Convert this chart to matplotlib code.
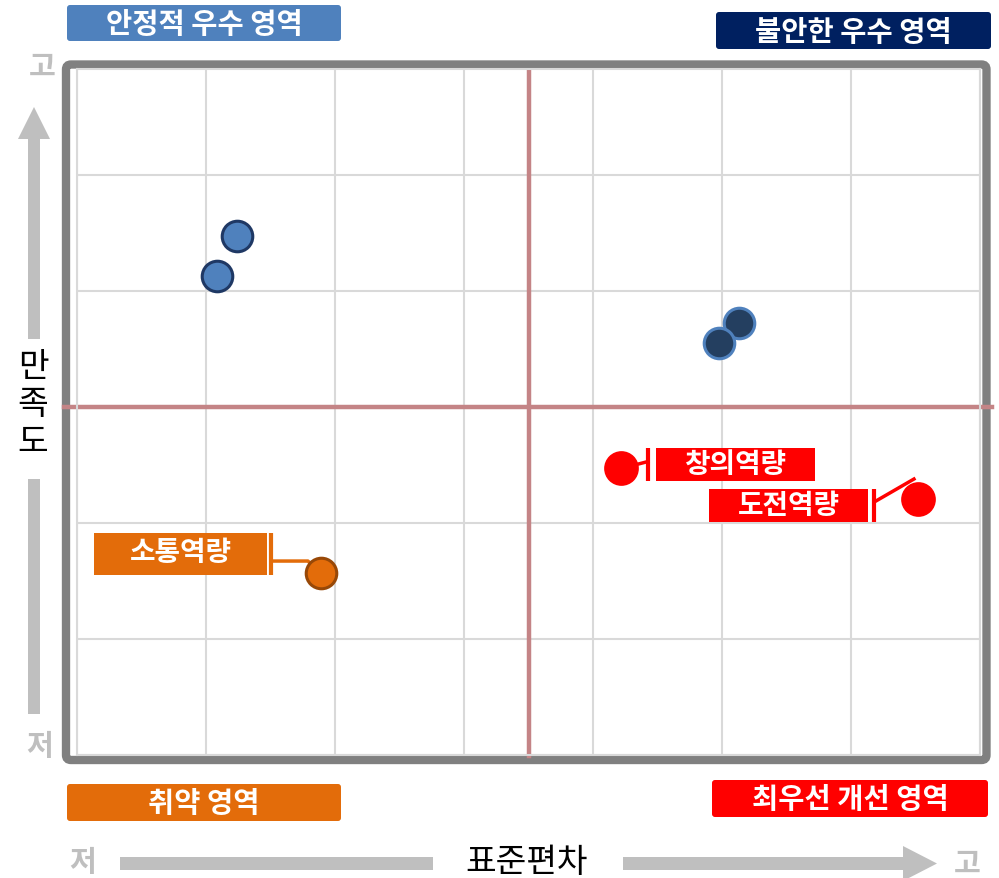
import matplotlib
matplotlib.use("Agg")
from matplotlib import pyplot as plt
from matplotlib.patches import Rectangle, FancyBboxPatch, FancyArrow
import numpy as np

plt.rcParams['font.family'] = ['Noto Sans CJK KR', 'DejaVu Sans']

# data (grid units: x = 표준편차, y = 만족도)
blue_x = [1.24, 1.085]
blue_y = [4.47, 4.13]
navy_x = [5.13, 4.98]
navy_y = [3.72, 3.55]
red_names = ["창의역량", "도전역량"]
red_x = [4.22, 6.52]
red_y = [2.47, 2.21]
orange_names = ["소통역량"]
orange_x = [1.89]
orange_y = [1.57]
x_mid = 3.5
y_mid = 3.0

quad_labels = ["안정적 우수 영역", "불안한 우수 영역", "취약 영역", "최우선 개선 영역"]
quad_colors = ["#4F81BD", "#002060", "#E36C0A", "#FF0000"]

W, H = 999, 879
fig = plt.figure(figsize=(W / 100, H / 100), dpi=100)

# overlay in pixel coords for the decorations
ov = fig.add_axes([0, 0, 1, 1], zorder=0)
ov.set_xlim(0, W)
ov.set_ylim(H, 0)
ov.axis("off")

ax = fig.add_axes([77 / W, 1 - 756 / H, 903 / W, 686 / H], zorder=1)
ax.set_facecolor("none")
ax.set_xlim(0, 7)
ax.set_ylim(0, 686 / 116)
ax.set_xticks(range(8))
ax.set_yticks(range(6))
ax.grid(True, color="#D9D9D9", linewidth=1.5)
ax.tick_params(length=0, labelbottom=False, labelleft=False)
for s in ax.spines.values():
    s.set_color("#D9D9D9")
    s.set_linewidth(1.5)
ax.set_axisbelow(True)

# outer frame
ov.add_patch(FancyBboxPatch((66, 65.5), 920.5, 695.5, boxstyle="round,pad=0,rounding_size=5",
                            facecolor="none", edgecolor="#808080", linewidth=6))

# quadrant lines
ax.plot([-0.1, 7.09], [y_mid, y_mid], color="#C48486", linewidth=3.2, clip_on=False, zorder=2)
ax.plot([x_mid, x_mid], [-0.01, 5.9], color="#C48486", linewidth=3.2, clip_on=False, zorder=2)

# points
ax.plot(blue_x, blue_y, "o", markersize=22, markerfacecolor="#4F81BD",
        markeredgecolor="#1F3864", markeredgewidth=2.2, zorder=5, clip_on=False)
ax.plot(navy_x, navy_y, "o", markersize=22, markerfacecolor="#243F60",
        markeredgecolor="#4F81BD", markeredgewidth=2.2, zorder=5, clip_on=False)
ax.plot(red_x, red_y, "o", markersize=25, markerfacecolor="#FF0000",
        markeredgecolor="#FF0000", markeredgewidth=0, zorder=5, clip_on=False)
ax.plot(orange_x, orange_y, "o", markersize=22, markerfacecolor="#E36C0A",
        markeredgecolor="#984807", markeredgewidth=2.2, zorder=5, clip_on=False)

# label boxes: (x0, x1, y0, y1), tick x, leader path
red_boxes = [(4.488, 5.721, 2.362, 2.647), (4.899, 6.132, 2.009, 2.293)]
red_ticks = [4.426, 6.178]
red_leaders = [([4.22, 4.426], [2.47, 2.53]), ([6.194, 6.488], [2.19, 2.379])]
for name, (x0, x1, y0, y1), tx, (lx, ly) in zip(red_names, red_boxes, red_ticks, red_leaders):
    ax.add_patch(Rectangle((x0, y0), x1 - x0, y1 - y0, facecolor="#FF0000", edgecolor="none", zorder=4))
    ax.plot([tx, tx], [y0, y1], color="#FF0000", linewidth=3, zorder=4, solid_capstyle="butt")
    ax.plot(lx, ly, color="#FF0000", linewidth=2.5, zorder=4)
    ax.text((x0 + x1) / 2, (y0 + y1) / 2, name, color="white", fontsize=20, fontweight="bold",
            ha="center", va="center", zorder=6)

or_boxes = [(0.132, 1.473, 1.552, 1.914)]
or_ticks = [1.504]
or_leaders = [([1.504, 1.79, 1.89], [1.672, 1.672, 1.57])]
for name, (x0, x1, y0, y1), tx, (lx, ly) in zip(orange_names, or_boxes, or_ticks, or_leaders):
    ax.add_patch(Rectangle((x0, y0), x1 - x0, y1 - y0, facecolor="#E36C0A", edgecolor="none", zorder=4))
    ax.plot([tx, tx], [y0, y1], color="#E36C0A", linewidth=3, zorder=4, solid_capstyle="butt")
    ax.plot(lx, ly, color="#E36C0A", linewidth=2.5, zorder=4)
    ax.text((x0 + x1) / 2, (y0 + y1) / 2 + 0.02, name, color="white", fontsize=20, fontweight="bold",
            ha="center", va="center", zorder=6)

# quadrant titles
quad_boxes = [(67, 341, 6, 42), (716, 991, 13, 50), (67, 341, 785, 822), (712, 988, 781, 818)]
for lab, col, (x0, x1, y0, y1) in zip(quad_labels, quad_colors, quad_boxes):
    ov.add_patch(FancyBboxPatch((x0, y0), x1 - x0, y1 - y0, boxstyle="round,pad=0,rounding_size=3",
                                facecolor=col, edgecolor="none"))
    ov.text((x0 + x1) / 2, (y0 + y1) / 2 + 1, lab, color="white", fontsize=20.5, fontweight="bold",
            ha="center", va="center")

# axis arrows and titles
gray = "#BFBFBF"
ov.add_patch(FancyArrow(34, 340, 0, -232, width=12, head_width=32, head_length=32,
                        length_includes_head=True, color=gray, linewidth=0))
ov.add_patch(Rectangle((28, 480), 12, 235, color=gray, linewidth=0))
ov.add_patch(Rectangle((120, 858), 313, 13, color=gray, linewidth=0))
ov.add_patch(FancyArrow(623, 864.5, 314, 0, width=13, head_width=35, head_length=34,
                        length_includes_head=True, color=gray, linewidth=0))

ov.text(33, 405, "만\n족\n도", fontsize=24, ha="center", va="center", linespacing=1.08, color="black")
ov.text(527, 863, "표준편차", fontsize=24, ha="center", va="center", color="black")
ov.text(42, 67, "고", fontsize=21, fontweight="bold", color=gray, ha="center", va="center")
ov.text(40, 746, "저", fontsize=21, fontweight="bold", color=gray, ha="center", va="center")
ov.text(83, 862, "저", fontsize=21, fontweight="bold", color=gray, ha="center", va="center")
ov.text(967, 864, "고", fontsize=21, fontweight="bold", color=gray, ha="center", va="center")

fig.savefig("out.png", dpi=100, facecolor="white")
